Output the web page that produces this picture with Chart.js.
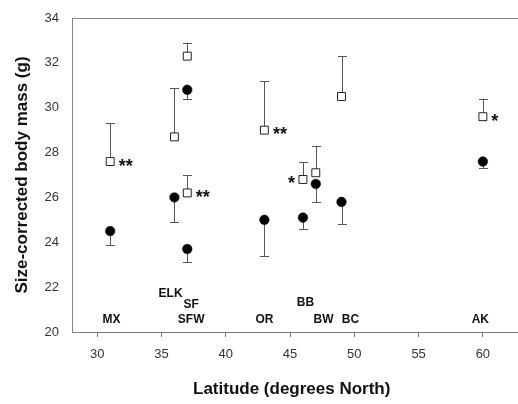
<!DOCTYPE html>
<html>
<head>
<meta charset="utf-8">
<script src="https://cdn.jsdelivr.net/npm/chart.js@4/dist/chart.umd.min.js"></script>
<style>
  html, body { margin: 0; padding: 0; background: #fff; }
  #wrap { width: 518px; height: 404px; }
</style>
</head>
<body>
<div id="wrap"><canvas id="c" width="518" height="404"></canvas></div>
<script>
// Latitude of each sampled site (degrees North)
const latitude = [31, 36, 37, 37, 43, 46, 47, 49, 60];
// Open squares: mean mass and upper error limit
const openMass  = [27.6, 28.7, 32.3, 26.2, 29.0, 26.8, 27.1, 30.5, 29.6];
const openUpper = [29.3, 30.9, 32.9, 27.0, 31.2, 27.6, 28.3, 32.3, 30.4];
const openStars = ['**', '', '', '**', '**', '*', '', '', '*'];
const openStarSide = ['right', '', '', 'right', 'right', 'left', '', '', 'right'];
// Filled circles: mean mass and lower error limit
const filledMass  = [24.5, 26.0, 30.8, 23.7, 25.0, 25.1, 26.6, 25.8, 27.6];
const filledLower = [23.9, 24.9, 30.4, 23.1, 23.4, 24.6, 25.8, 24.8, 27.3];
// Site labels written inside the plot
const siteNames = ['MX', 'ELK', 'SF', 'SFW', 'OR', 'BB', 'BW', 'BC', 'AK'];
const siteLabelX = [31.1, 35.7, 37.3, 37.3, 43.0, 46.2, 47.6, 49.7, 59.8];
const siteLabelY = [20.55, 21.7, 21.2, 20.55, 20.55, 21.3, 20.55, 20.55, 20.55];
// Axis ticks
const xTicks = [30, 35, 40, 45, 50, 55, 60];
const yTicks = [20, 22, 24, 26, 28, 30, 32, 34];

const FONT = "'Liberation Sans', Arial, Helvetica, sans-serif";

const openData = latitude.map((x, i) => ({ x: x, y: openMass[i] }));
const filledData = latitude.map((x, i) => ({ x: x, y: filledMass[i] }));

const extrasPlugin = {
  id: 'extras',
  beforeDatasetsDraw(chart) {
    const ctx = chart.ctx, xs = chart.scales.x, ys = chart.scales.y;
    ctx.save();
    ctx.strokeStyle = '#555';
    ctx.lineWidth = 1;
    const cap = 4.5;
    const bar = (x, y0, y1) => {
      const px = Math.round(xs.getPixelForValue(x)) + 0.5;
      const p0 = ys.getPixelForValue(y0);
      const p1 = Math.round(ys.getPixelForValue(y1)) + 0.5;
      ctx.beginPath();
      ctx.moveTo(px, p0); ctx.lineTo(px, p1);
      ctx.moveTo(px - cap, p1); ctx.lineTo(px + cap, p1);
      ctx.stroke();
    };
    latitude.forEach((x, i) => {
      bar(x, openMass[i], openUpper[i]);
      bar(x, filledMass[i], filledLower[i]);
    });
    ctx.restore();
  },
  afterDatasetsDraw(chart) {
    const ctx = chart.ctx, xs = chart.scales.x, ys = chart.scales.y;
    ctx.save();
    ctx.fillStyle = '#111';
    ctx.font = 'bold 12px ' + FONT;
    ctx.textAlign = 'center';
    ctx.textBaseline = 'middle';
    siteNames.forEach((n, i) => {
      ctx.fillText(n, xs.getPixelForValue(siteLabelX[i]), ys.getPixelForValue(siteLabelY[i]));
    });
    ctx.font = 'bold 18px ' + FONT;
    ctx.textBaseline = 'alphabetic';
    openStars.forEach((s, i) => {
      if (!s) return;
      const px = xs.getPixelForValue(latitude[i]);
      const py = ys.getPixelForValue(openMass[i]);
      if (openStarSide[i] === 'left') {
        ctx.textAlign = 'right';
        ctx.fillText(s, px - 8, py + 10);
      } else {
        ctx.textAlign = 'left';
        ctx.fillText(s, px + 8.5, py + 10);
      }
    });
    ctx.restore();
  },
  afterDraw(chart) {
    const ctx = chart.ctx, a = chart.chartArea;
    ctx.save();
    ctx.lineWidth = 1;
    ctx.strokeStyle = '#888';
    ctx.beginPath();
    ctx.moveTo(a.left, Math.round(a.top) + 0.5);
    ctx.lineTo(chart.width, Math.round(a.top) + 0.5);
    ctx.stroke();
    ctx.strokeStyle = '#777';
    ctx.beginPath();
    ctx.moveTo(a.right - 1, Math.round(a.bottom) + 0.5);
    ctx.lineTo(chart.width, Math.round(a.bottom) + 0.5);
    ctx.stroke();
    ctx.restore();
  }
};

new Chart(document.getElementById('c'), {
  type: 'scatter',
  data: {
    datasets: [
      {
        label: 'open',
        data: openData,
        pointStyle: 'rect',
        pointRadius: 5.6,
        pointHoverRadius: 5.6,
        backgroundColor: '#fff',
        borderColor: '#222',
        borderWidth: 1
      },
      {
        label: 'filled',
        data: filledData,
        pointStyle: 'circle',
        pointRadius: 4.8,
        pointHoverRadius: 4.8,
        backgroundColor: '#000',
        borderColor: '#000',
        borderWidth: 0.5
      }
    ]
  },
  options: {
    responsive: false,
    animation: false,
    devicePixelRatio: 1,
    layout: { padding: { top: 18, right: 0, left: 0, bottom: 0 } },
    plugins: { legend: { display: false }, tooltip: { enabled: false } },
    scales: {
      x: {
        type: 'linear',
        min: 28.03,
        max: 62.22,
        afterBuildTicks: (s) => { s.ticks = xTicks.map(v => ({ value: v })); },
        afterFit: (s) => { s.height = 72; },
        grid: { drawOnChartArea: false, drawTicks: true, tickLength: 5, color: '#777' },
        border: { display: true, color: '#777' },
        ticks: { padding: 10, color: '#333', font: { family: FONT, size: 13 }, maxRotation: 0 },
        title: {
          display: true,
          text: 'Latitude (degrees North)',
          color: '#111',
          font: { family: FONT, size: 17, weight: 'bold' },
          padding: { top: 0, bottom: 4 }
        }
      },
      y: {
        type: 'linear',
        min: 20,
        max: 34,
        afterBuildTicks: (s) => { s.ticks = yTicks.map(v => ({ value: v })); },
        afterFit: (s) => { s.width = 72; s.paddingTop = 0; s.paddingBottom = 0; },
        grid: { drawOnChartArea: false, drawTicks: false },
        border: { display: true, color: '#888' },
        ticks: { padding: 13, color: '#333', font: { family: FONT, size: 13 } },
        title: {
          display: true,
          text: 'Size-corrected body mass (g)',
          color: '#111',
          font: { family: FONT, size: 17, weight: 'bold' },
          padding: { top: 12, bottom: 0 }
        }
      }
    }
  },
  plugins: [extrasPlugin]
});
</script>
</body>
</html>
